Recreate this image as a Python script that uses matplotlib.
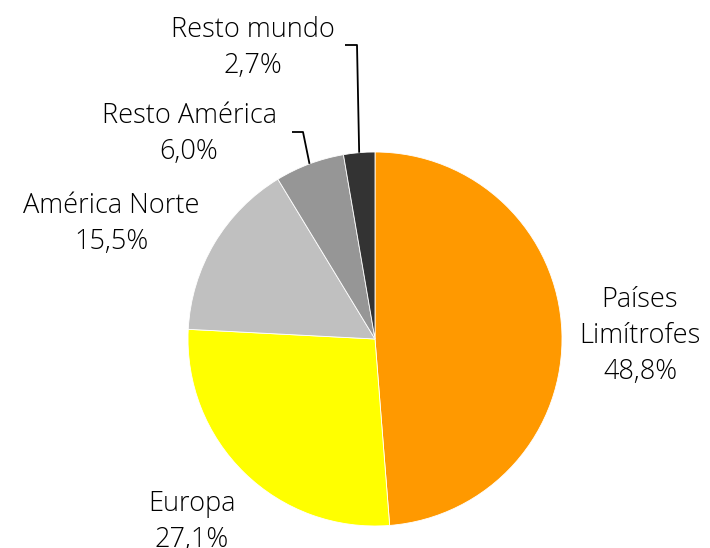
import numpy as np
import matplotlib.pyplot as plt

labels = ['Países\nLimítrofes', 'Europa', 'América Norte', 'Resto América', 'Resto mundo']
shares = [48.8, 27.1, 15.5, 6.0, 2.7]
colors = ['#FF9900', '#FFFF00', '#C0C0C0', '#969696', '#333333']

W, H = 710, 548
cx, cy, r = 375, H - 339, 187

fig = plt.figure(figsize=(7.1, 5.48), dpi=100)
ax = fig.add_axes([0, 0, 1, 1])

wedges, _ = ax.pie(shares, colors=colors, startangle=90, counterclock=False,
                   center=(cx, cy), radius=r, frame=True,
                   wedgeprops=dict(edgecolor='white', linewidth=0.6))
ax.set_xlim(0, W)
ax.set_ylim(0, H)
ax.axis('off')

font = dict(family=['Open Sans', 'DejaVu Sans'], fontweight='light', fontsize=19.5,
            color='black', ha='center', va='center', linespacing=1.38)

# label centres (pixel coords from top)
label_pos = [(640, 336), (192, 522), (111, 224), (189, 134), (253, 48)]

for lab, val, (px, py) in zip(labels, shares, label_pos):
    txt = f'{lab}\n{val:.1f}%'.replace('.', ',')
    ax.text(px, H - py, txt, **font)

# leader lines for the two thin slices
total = sum(shares)
ends = np.cumsum(shares) / total * 360
starts = ends - np.array(shares) / total * 360
mids = (starts + ends) / 2
elbows = {3: [(292, 132), (303, 132)], 4: [(345, 45), (357, 45)]}
for i, pts in elbows.items():
    a = np.deg2rad(90 - mids[i])
    tip = (cx + r * np.cos(a), cy + r * np.sin(a))
    xs = [p[0] for p in pts] + [tip[0]]
    ys = [H - p[1] for p in pts] + [tip[1]]
    ax.plot(xs, ys, color='black', linewidth=1.3, solid_capstyle='butt')

fig.savefig('out.png', dpi=100)
